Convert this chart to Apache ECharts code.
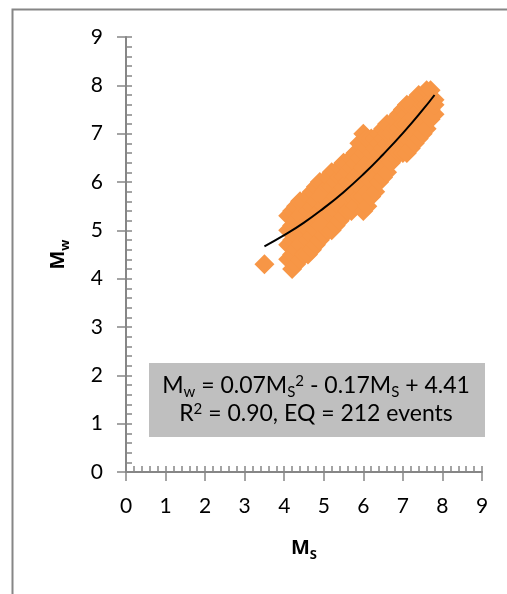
<!DOCTYPE html>
<html lang="en">
<head>
<meta charset="UTF-8">
<title>Mw vs Ms</title>
<script src="https://cdn.jsdelivr.net/npm/echarts@6/dist/echarts.min.js"></script>
<style>
  html, body { margin: 0; padding: 0; background: #fff; }
  #main { width: 507px; height: 594px; }
</style>
</head>
<body>
<div id="main"></div>
<script>
// axis ticks
var axisTicks = [0, 1, 2, 3, 4, 5, 6, 7, 8, 9];

// events: [Ms, Mw]
var events = [
  [3.5, 4.3],
  [4.1, 4.4], [4.1, 4.7], [4.1, 5.0], [4.1, 5.3],
  [4.2, 4.2], [4.2, 4.5], [4.2, 4.8], [4.2, 5.1], [4.2, 5.4],
  [4.3, 4.3], [4.3, 4.6], [4.3, 4.9], [4.3, 5.2], [4.3, 5.5],
  [4.4, 4.4], [4.4, 4.7], [4.4, 5.0], [4.4, 5.3], [4.4, 5.6],
  [4.5, 4.5], [4.5, 4.8], [4.5, 5.1], [4.5, 5.4], [4.5, 5.6],
  [4.6, 4.5], [4.6, 4.8], [4.6, 5.1], [4.6, 5.4], [4.6, 5.7],
  [4.7, 4.6], [4.7, 4.9], [4.7, 5.2], [4.7, 5.5], [4.7, 5.8],
  [4.8, 4.7], [4.8, 5.0], [4.8, 5.3], [4.8, 5.6], [4.8, 5.9],
  [4.9, 4.8], [4.9, 5.1], [4.9, 5.4], [4.9, 5.7], [4.9, 6.0],
  [5.0, 4.9], [5.0, 5.2], [5.0, 5.5], [5.0, 5.8], [5.0, 6.0],
  [5.1, 5.0], [5.1, 5.3], [5.1, 5.6], [5.1, 5.9], [5.1, 6.1],
  [5.2, 5.0], [5.2, 5.3], [5.2, 5.6], [5.2, 5.9], [5.2, 6.2],
  [5.3, 5.1], [5.3, 5.4], [5.3, 5.7], [5.3, 6.0], [5.3, 6.2],
  [5.4, 5.2], [5.4, 5.5], [5.4, 5.8], [5.4, 6.1], [5.4, 6.3],
  [5.5, 5.3], [5.5, 5.6], [5.5, 5.9], [5.5, 6.1], [5.5, 6.4],
  [5.6, 5.4], [5.6, 5.7], [5.6, 6.0], [5.6, 6.2], [5.6, 6.4],
  [5.7, 5.4], [5.7, 5.7], [5.7, 6.0], [5.7, 6.3], [5.7, 6.5],
  [5.8, 5.5], [5.8, 5.8], [5.8, 6.1], [5.8, 6.4], [5.8, 6.6],
  [5.9, 5.7], [5.9, 5.9], [5.9, 6.2], [5.9, 6.5], [5.9, 6.8],
  [6.0, 5.4], [6.0, 5.7], [6.0, 6.0], [6.0, 6.3], [6.0, 6.6], [6.0, 7.0],
  [6.1, 5.5], [6.1, 5.8], [6.1, 6.1], [6.1, 6.4], [6.1, 6.7], [6.1, 6.9],
  [6.2, 5.7], [6.2, 6.0], [6.2, 6.3], [6.2, 6.6], [6.2, 6.9],
  [6.3, 5.8], [6.3, 6.1], [6.3, 6.4], [6.3, 6.7], [6.3, 6.9],
  [6.4, 6.0], [6.4, 6.3], [6.4, 6.6], [6.4, 6.8], [6.4, 7.0],
  [6.5, 6.1], [6.5, 6.4], [6.5, 6.7], [6.5, 6.9], [6.5, 7.1],
  [6.6, 6.2], [6.6, 6.5], [6.6, 6.8], [6.6, 7.0], [6.6, 7.2],
  [6.7, 6.4], [6.7, 6.7], [6.7, 7.0], [6.7, 7.2],
  [6.8, 6.5], [6.8, 6.8], [6.8, 7.1], [6.8, 7.3],
  [6.9, 6.6], [6.9, 6.9], [6.9, 7.1], [6.9, 7.4],
  [7.0, 6.6], [7.0, 6.9], [7.0, 7.2], [7.0, 7.5],
  [7.1, 6.6], [7.1, 6.9], [7.1, 7.2], [7.1, 7.4], [7.1, 7.6],
  [7.2, 6.7], [7.2, 7.0], [7.2, 7.3], [7.2, 7.6],
  [7.3, 6.8], [7.3, 7.0], [7.3, 7.3], [7.3, 7.5], [7.3, 7.7],
  [7.4, 6.9], [7.4, 7.2], [7.4, 7.5], [7.4, 7.8],
  [7.5, 7.0], [7.5, 7.3], [7.5, 7.6], [7.5, 7.8],
  [7.6, 7.1], [7.6, 7.4], [7.6, 7.6], [7.6, 7.9],
  [7.7, 7.3], [7.7, 7.5], [7.7, 7.7], [7.7, 7.9],
  [7.8, 7.4], [7.8, 7.6], [7.8, 7.7]
];

// fitted curve
var fitMs = [3.5, 4.0, 4.5, 5.0, 5.5, 6.0, 6.5, 7.0, 7.5, 7.8];
var fitMw = [4.67, 4.90, 5.16, 5.46, 5.79, 6.16, 6.57, 7.01, 7.49, 7.80];

var fitLine = fitMs.map(function (v, i) { return [v, fitMw[i]]; });

var gray = '#868686';
var font = 'Lato';
var boldFont = 'Noto Sans';

var chart = echarts.init(document.getElementById('main'), null, { renderer: 'canvas' });

var baseAxis = {
  type: 'value',
  min: 0,
  max: 9,
  interval: 1,
  splitLine: { show: false },
  axisLine: { show: true, onZero: false, lineStyle: { color: gray, width: 2 } }
};

var titleRich = {
  b: { fontFamily: boldFont, fontWeight: 'bold', fontSize: 20, color: '#000', lineHeight: 28, verticalAlign: 'middle' },
  bs: { fontFamily: boldFont, fontWeight: 'bold', fontSize: 13, color: '#000', lineHeight: 14, verticalAlign: 'bottom' }
};

chart.setOption({
  backgroundColor: '#fff',
  animation: false,
  grid: { left: 126, right: 25, top: 37, bottom: 122, containLabel: false, outerBoundsMode: 'none' },
  xAxis: [
    Object.assign({}, baseAxis, {
      position: 'bottom',
      name: '{b|M}{bs|S}',
      nameLocation: 'middle',
      nameGap: 62,
      nameTextStyle: { rich: titleRich },
      axisTick: { show: true, length: 9, lineStyle: { color: gray, width: 1.5 } },
      axisLabel: { color: '#000', fontFamily: font, fontSize: 21, margin: 24,
        formatter: function (v) { return axisTicks.indexOf(v) >= 0 ? String(v) : ''; } }
    }),
    Object.assign({}, baseAxis, {
      position: 'bottom',
      axisLine: { show: false, onZero: false },
      axisLabel: { show: false },
      axisTick: { show: true, inside: true, length: 6, lineStyle: { color: gray, width: 1.5 } },
      minorTick: { show: true, splitNumber: 5, length: 6, lineStyle: { color: gray, width: 1.5 } }
    })
  ],
  yAxis: [
    Object.assign({}, baseAxis, {
      position: 'left',
      name: '{b|M}{bs|w}',
      nameLocation: 'middle',
      nameGap: 54,
      nameRotate: 90,
      nameTextStyle: { rich: titleRich },
      axisTick: { show: true, length: 9, lineStyle: { color: gray, width: 1.5 } },
      axisLabel: { color: '#000', fontFamily: font, fontSize: 21, margin: 23 }
    }),
    Object.assign({}, baseAxis, {
      position: 'left',
      axisLine: { show: false, onZero: false },
      axisLabel: { show: false },
      axisTick: { show: true, inside: true, length: 6, lineStyle: { color: gray, width: 1.5 } },
      minorTick: { show: true, splitNumber: 5, length: 6, lineStyle: { color: gray, width: 1.5 } }
    })
  ],
  series: [
    {
      type: 'scatter',
      data: events,
      symbol: 'diamond',
      symbolSize: 20,
      itemStyle: { color: '#f79646', opacity: 1 },
      z: 2
    },
    {
      type: 'line',
      data: fitLine,
      smooth: true,
      showSymbol: false,
      symbol: 'none',
      lineStyle: { color: '#000', width: 2 },
      z: 3
    }
  ],
  graphic: [
    {
      type: 'rect',
      left: 10, top: 7,
      shape: { width: 600, height: 700 },
      style: { fill: null, stroke: gray, lineWidth: 2 },
      silent: true
    },
    {
      type: 'rect',
      left: 149, top: 363,
      shape: { width: 336, height: 74 },
      style: { fill: '#bfbfbf' },
      z: 10
    },
    {
      type: 'text',
      x: 316, y: 386,
      z: 11,
      style: {
        text: '{n|M}{s|w}{n| = 0.07M}{s|S}{p|2}{n| - 0.17M}{s|S}{n| + 4.41}',
        align: 'center',
        verticalAlign: 'middle',
        rich: {
          n: { fontFamily: font, fontSize: 23, color: '#000', lineHeight: 28, verticalAlign: 'middle' },
          s: { fontFamily: font, fontSize: 15, color: '#000', lineHeight: 15, verticalAlign: 'bottom' },
          p: { fontFamily: font, fontSize: 15, color: '#000', lineHeight: 15, verticalAlign: 'top', padding: [2, 0, 0, 0] }
        }
      }
    },
    {
      type: 'text',
      x: 316, y: 414,
      z: 11,
      style: {
        text: '{n|R}{p|2}{n| = 0.90, EQ = 212 events}',
        align: 'center',
        verticalAlign: 'middle',
        rich: {
          n: { fontFamily: font, fontSize: 23, color: '#000', lineHeight: 28, verticalAlign: 'middle' },
          p: { fontFamily: font, fontSize: 15, color: '#000', lineHeight: 15, verticalAlign: 'top', padding: [2, 0, 0, 0] }
        }
      }
    }
  ]
});
</script>
</body>
</html>
